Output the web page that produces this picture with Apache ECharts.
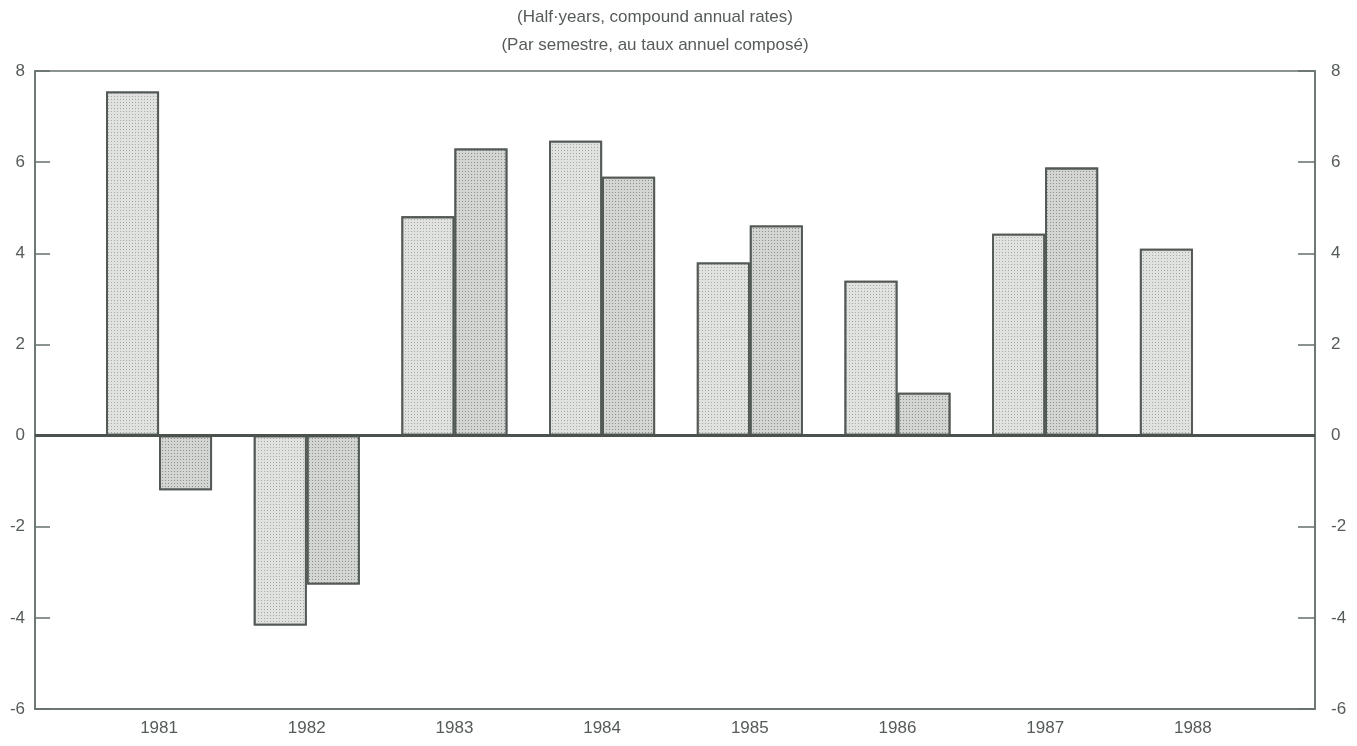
<!DOCTYPE html>
<html>
<head>
<meta charset="utf-8">
<script src="https://cdn.jsdelivr.net/npm/echarts@6/dist/echarts.min.js"></script>
<style>
html,body{margin:0;padding:0;background:#fff;}
#chart{width:1357px;height:746px;}
</style>
</head>
<body>
<div id="chart"></div>
<script>
// Data
var years = [1981, 1982, 1983, 1984, 1985, 1986, 1987, 1988];
var firstHalf  = [7.55, -4.17, 4.81, 6.47, 3.8, 3.4, 4.43, 4.1];
var secondHalf = [-1.2, -3.27, 6.3, 5.68, 4.61, 0.94, 5.88];
var yTicks = [-6, -4, -2, 0, 2, 4, 6, 8];
var titleLines = ['(Half·years, compound annual rates)', '(Par semestre, au taux annuel composé)'];

var h1 = firstHalf.map(function (v, i) { return [years[i], v]; });
var h2 = secondHalf.map(function (v, i) { return [years[i], v]; });

var axisColor = '#66706b';
var textColor = '#555b58';
var font = '"Liberation Sans", Arial, Helvetica, sans-serif';

var chart = echarts.init(document.getElementById('chart'));
chart.setOption({
  animation: false,
  backgroundColor: '#ffffff',
  title: {
    text: titleLines.join('\n'),
    left: 655,
    textAlign: 'center',
    top: 3,
    padding: 0,
    textStyle: { fontFamily: font, fontSize: 17, fontWeight: 'normal', color: textColor, lineHeight: 28, align: 'center' }
  },
  grid: { left: 35, right: 42, top: 71, bottom: 37, show: true, borderColor: axisColor, borderWidth: 1.5, backgroundColor: 'transparent' },
  xAxis: {
    type: 'value',
    min: 1980.16,
    max: 1988.827,
    splitLine: { show: false },
    axisLine: { show: true, onZero: false, lineStyle: { color: axisColor, width: 1.5 } },
    axisTick: { show: false },
    axisLabel: {
      customValues: years,
      formatter: function (v) { return String(Math.round(v)); },
      fontFamily: font, fontSize: 17, color: textColor, margin: 11
    }
  },
  yAxis: [
    {
      type: 'value', position: 'left', min: -6, max: 8, interval: 2,
      splitLine: { show: false },
      axisLine: { show: true, lineStyle: { color: axisColor, width: 1.5 } },
      axisTick: { show: true, inside: true, length: 15, lineStyle: { color: axisColor, width: 1.5 } },
      axisLabel: { fontFamily: font, fontSize: 17, color: textColor, margin: 10 }
    },
    {
      type: 'value', position: 'right', min: -6, max: 8, interval: 2,
      splitLine: { show: false },
      axisLine: { show: true, lineStyle: { color: axisColor, width: 1.5 } },
      axisTick: { show: true, inside: true, length: 17, lineStyle: { color: axisColor, width: 1.5 } },
      axisLabel: { fontFamily: font, fontSize: 17, color: textColor, margin: 16 }
    }
  ],
  series: [
    {
      name: 'H1', type: 'bar', data: h1, barWidth: 53, barGap: '0%',
      itemStyle: {
        color: '#e0e2df', borderColor: '#535a56', borderWidth: 1.8,
        decal: { symbol: 'rect', symbolSize: 1, color: 'rgba(80,88,84,0.4)', dashArrayX: [1, 2], dashArrayY: [1, 2], rotation: 0 }
      },
      markLine: {
        silent: true, symbol: 'none', label: { show: false },
        lineStyle: { color: '#4b524e', width: 3, type: 'solid' },
        data: [{ yAxis: 0 }]
      }
    },
    {
      name: 'H2', type: 'bar', data: h2, barWidth: 53, barGap: '0%',
      itemStyle: {
        color: '#d2d5d2', borderColor: '#535a56', borderWidth: 1.8,
        decal: { symbol: 'rect', symbolSize: 1, color: 'rgba(70,78,74,0.5)', dashArrayX: [1, 1.5], dashArrayY: [1, 1.5], rotation: 0 }
      }
    }
  ]
});
</script>
</body>
</html>
